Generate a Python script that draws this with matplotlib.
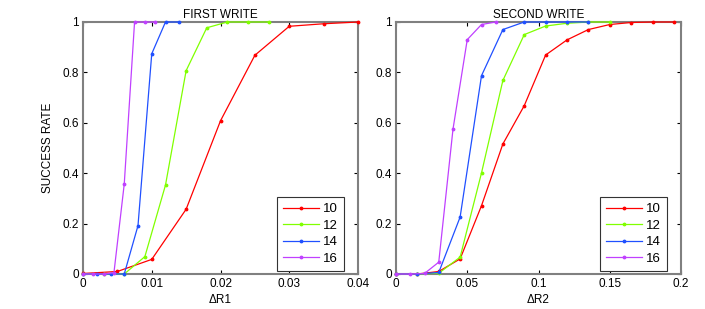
import matplotlib
matplotlib.use("Agg")
import matplotlib.pyplot as plt

plt.rcParams['font.family'] = ['Liberation Sans', 'DejaVu Sans']

labels = ['10', '12', '14', '16']
colors = ['#ff0000', '#80ff00', '#2050ff', '#c040ff']

# FIRST WRITE (dR1)
x1_10 = [0, 0.005, 0.01, 0.015, 0.02, 0.025, 0.03, 0.035, 0.04]
y1_10 = [0.002, 0.01, 0.058, 0.257, 0.608, 0.868, 0.983, 0.993, 1.0]
x1_12 = [0, 0.003, 0.006, 0.009, 0.012, 0.015, 0.018, 0.021, 0.024, 0.027]
y1_12 = [0, 0, 0, 0.069, 0.353, 0.807, 0.977, 1.0, 1.0, 1.0]
x1_14 = [0, 0.002, 0.004, 0.006, 0.008, 0.010, 0.012, 0.014]
y1_14 = [0, 0, 0, 0, 0.192, 0.874, 1.0, 1.0]
x1_16 = [0, 0.0015, 0.003, 0.0045, 0.006, 0.0075, 0.009, 0.0105]
y1_16 = [0, 0, 0, 0.005, 0.357, 1.0, 1.0, 1.0]

# SECOND WRITE (dR2)
x2_10 = [0, 0.015, 0.03, 0.045, 0.06, 0.075, 0.09, 0.105, 0.12, 0.135, 0.15, 0.165, 0.18, 0.195]
y2_10 = [0, 0, 0.01, 0.06, 0.271, 0.516, 0.668, 0.869, 0.929, 0.97, 0.99, 0.998, 1.0, 1.0]
x2_12 = [0, 0.015, 0.03, 0.045, 0.06, 0.075, 0.09, 0.105, 0.12, 0.135, 0.15]
y2_12 = [0, 0, 0.003, 0.067, 0.401, 0.768, 0.95, 0.984, 0.995, 1.0, 1.0]
x2_14 = [0, 0.015, 0.03, 0.045, 0.06, 0.075, 0.09, 0.105, 0.12, 0.135]
y2_14 = [0, 0, 0.006, 0.226, 0.787, 0.97, 1.0, 1.0, 1.0, 1.0]
x2_16 = [0, 0.01, 0.02, 0.03, 0.04, 0.05, 0.06, 0.07]
y2_16 = [0, 0, 0.002, 0.047, 0.575, 0.93, 0.99, 1.0]

titles = ['FIRST WRITE', 'SECOND WRITE']
xlabels = ['\u0394R1', '\u0394R2']
xlims = [(0, 0.04), (0, 0.2)]
xticks = [[0, 0.01, 0.02, 0.03, 0.04], [0, 0.05, 0.1, 0.15, 0.2]]
xticklabels = [['0', '0.01', '0.02', '0.03', '0.04'], ['0', '0.05', '0.1', '0.15', '0.2']]
yticks = [0, 0.2, 0.4, 0.6, 0.8, 1]
yticklabels = ['0', '0.2', '0.4', '0.6', '0.8', '1']

data = [
    [(x1_10, y1_10), (x1_12, y1_12), (x1_14, y1_14), (x1_16, y1_16)],
    [(x2_10, y2_10), (x2_12, y2_12), (x2_14, y2_14), (x2_16, y2_16)],
]

fig = plt.figure(figsize=(7.05, 3.09), dpi=100)
W, H = 705, 309
boxes = [(83, 22, 358, 274), (396, 22, 681, 274)]

for i, (l, t, r, b) in enumerate(boxes):
    ax = fig.add_axes([l / W, 1 - b / H, (r - l) / W, (b - t) / H])
    for (xs, ys), c, lab in zip(data[i], colors, labels):
        ax.plot(xs, ys, color=c, lw=0.9, marker='.', markersize=3.5, label=lab,
                zorder=3, clip_on=False)
    ax.set_xlim(*xlims[i])
    ax.set_ylim(0, 1)
    ax.set_xticks(xticks[i])
    ax.set_xticklabels(xticklabels[i])
    ax.set_yticks(yticks)
    ax.set_yticklabels(yticklabels)
    ax.tick_params(direction='in', length=3, width=0.8, top=True, right=True,
                   labelsize=8.5, pad=3, color='black')
    for s in ax.spines.values():
        s.set_color('#808080')
        s.set_linewidth(1.5)
    ax.set_title(titles[i], fontsize=8.5, pad=3)
    ax.set_xlabel(xlabels[i], fontsize=8.5, labelpad=3)
    if i == 0:
        ax.set_ylabel('SUCCESS RATE', fontsize=8.5, labelpad=6)
    aw = r - l
    ah = b - t
    leg = ax.legend(loc='lower right', fontsize=9.5, frameon=True, fancybox=False,
                    bbox_to_anchor=(1 - 14 / aw, 3 / ah), borderaxespad=0,
                    handlelength=2.7, handletextpad=0.35,
                    labelspacing=0.33, borderpad=0.45)
    leg.get_frame().set_edgecolor('#333333')
    leg.get_frame().set_linewidth(0.8)
    leg.get_frame().set_alpha(1)
    leg.set_zorder(5)

fig.savefig('out.png', dpi=100)
